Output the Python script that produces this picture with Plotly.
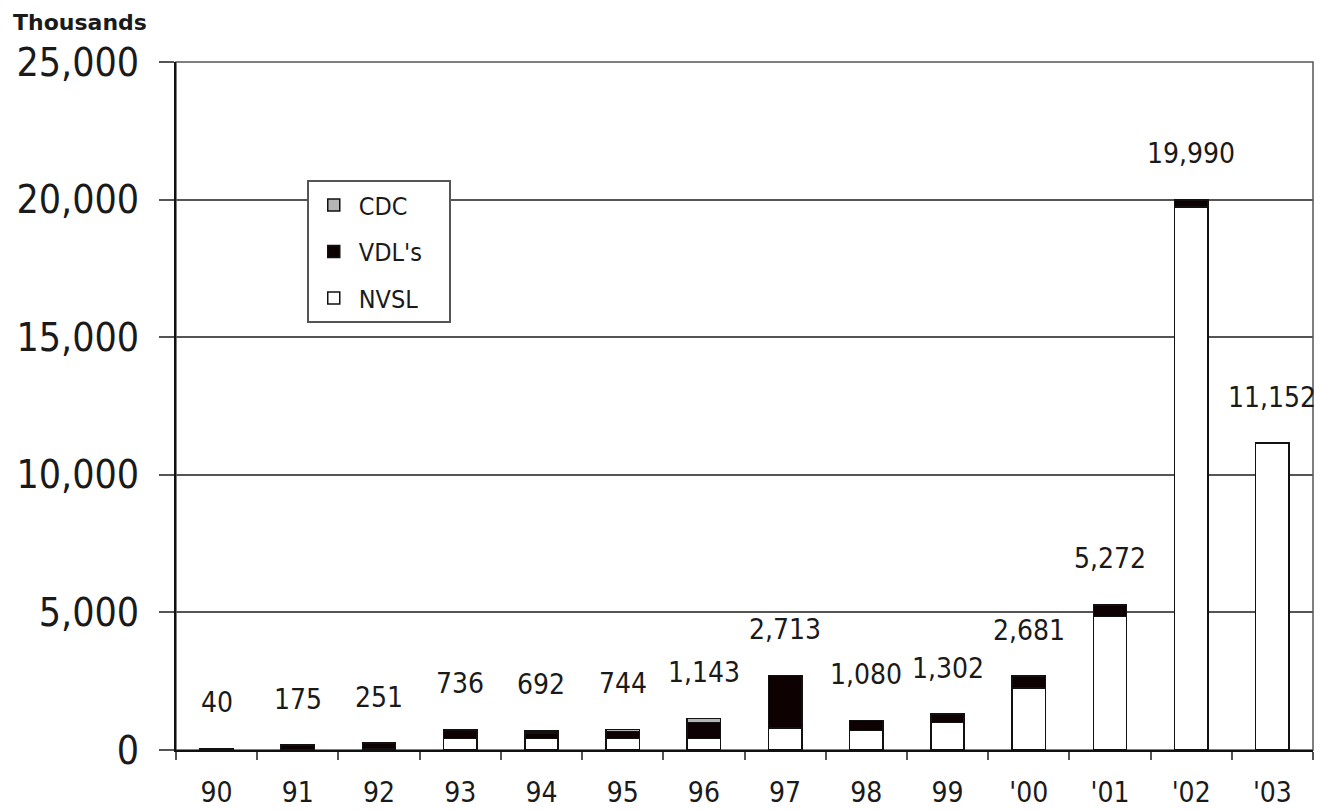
import plotly.graph_objects as go

# Annual volume by lab, thousands
years = ["90", "91", "92", "93", "94", "95", "96", "97", "98", "99", "'00", "'01", "'02", "'03"]
nvsl = [10, 20, 30, 420, 420, 420, 420, 800, 700, 1000, 2250, 4850, 19740, 11152]
vdls = [30, 155, 221, 290, 200, 250, 580, 1900, 380, 290, 431, 422, 250, 0]
cdc = [0, 0, 0, 26, 72, 74, 143, 13, 0, 12, 0, 0, 0, 0]
totals = [40, 175, 251, 736, 692, 744, 1143, 2713, 1080, 1302, 2681, 5272, 19990, 11152]

FONT = "DejaVu Sans Condensed, DejaVu Sans, sans-serif"
edge = dict(color="#111111", width=1.5)
pad = "&nbsp;" * 3

fig = go.Figure()
fig.add_trace(go.Bar(x=years, y=nvsl, name="NVSL" + pad, legendgroup="n", legendrank=3,
                     marker=dict(color="white", line=edge)))
fig.add_trace(go.Bar(x=years, y=vdls, name="VDL's" + pad, legendgroup="v", legendrank=2,
                     marker=dict(color="#0d0101", line=edge)))
fig.add_trace(go.Bar(x=years, y=cdc, name="CDC" + pad, legendgroup="c", legendrank=1,
                     marker=dict(color="#b5b5b5", line=edge)))

# total labels above each stack (category index on the x axis)
for i, tot in enumerate(totals):
    fig.add_annotation(x=i, y=tot, text=f"{tot:,}", showarrow=False,
                       yanchor="middle", yshift=46,
                       font=dict(family=FONT, size=28, color="#1a1a1a"))

fig.add_annotation(xref="paper", yref="paper", x=-0.145, y=1.058,
                   xanchor="left", yanchor="middle", showarrow=False,
                   text="<b>Thousands</b>",
                   font=dict(family="DejaVu Sans, sans-serif", size=22, color="#1a1a1a"))

# plot frame
fig.add_shape(type="rect", xref="paper", yref="paper", x0=0, y0=0, x1=1, y1=1,
              line=dict(color="#555555", width=1.5), layer="below")

fig.update_layout(
    width=1319, height=811,
    margin=dict(l=176, r=6, t=62, b=61),
    barmode="stack", bargap=0.59,
    plot_bgcolor="white", paper_bgcolor="white",
    font=dict(family=FONT, color="#1a1a1a"),
    showlegend=True,
    legend=dict(x=0.115, y=0.828, xanchor="left", yanchor="top",
                traceorder="grouped", tracegroupgap=11, itemwidth=40,
                bgcolor="white", bordercolor="#555555", borderwidth=2,
                font=dict(family=FONT, size=25, color="#1a1a1a")),
    xaxis=dict(type="category", range=[-0.5, 13.5], showline=True, automargin=False,
               linecolor="#111111", linewidth=2,
               ticks="outside", tickson="boundaries", ticklen=8, tickcolor="#555555",
               tickwidth=1.5, tickangle=0,
               tickfont=dict(family=FONT, size=28, color="#1a1a1a"),
               ticklabelstandoff=16, showgrid=False),
    yaxis=dict(range=[0, 25000], dtick=5000, tickformat=",", showline=True,
               automargin=False,
               linecolor="#111111", linewidth=2, ticks="outside", ticklen=15,
               tickcolor="#555555", tickwidth=1.5,
               tickfont=dict(family=FONT, size=39, color="#1a1a1a"),
               ticklabelstandoff=12, showgrid=True, gridcolor="#555555", gridwidth=1.5,
               zeroline=False),
)

fig.write_html("out.html")
